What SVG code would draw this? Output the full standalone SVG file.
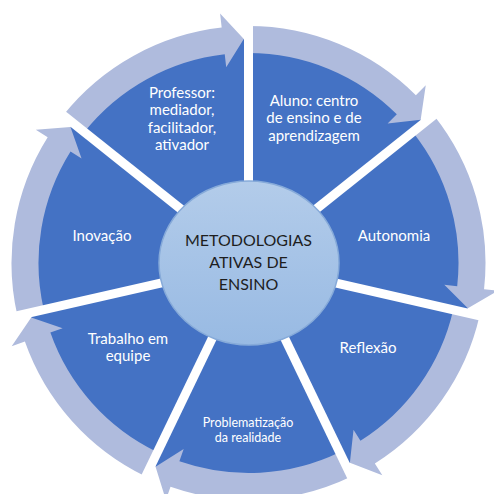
<svg xmlns="http://www.w3.org/2000/svg" width="494" height="494" viewBox="0 0 494 494">
  <defs>
    <style>
      .seg { fill: #4472C4; }
      .arw { fill: #AFBBDD; }
      .gap { stroke: #FFFFFF; stroke-width: 9; stroke-linecap: butt; fill: none; }
      .lbl { font-family: Lato, "Open Sans", "Liberation Sans", sans-serif; font-size: 15px; fill: #FFFFFF; text-anchor: middle; }
      .sm { font-size: 12.5px; }
      .hub-txt { font-family: Lato, "Open Sans", "Liberation Sans", sans-serif; font-size: 16px; fill: #1E1E1E; text-anchor: middle; }
    </style>
    <linearGradient id="hubFill" x1="0" y1="0" x2="0" y2="1">
      <stop offset="0" stop-color="#B3CCEA"/>
      <stop offset="1" stop-color="#98BAE3"/>
    </linearGradient>
  </defs>

  <rect width="494" height="494" fill="#FFFFFF"/>

  <!-- Seven pie segments around the hub at (248.5, 263), radius 224 -->
  <g id="node-aluno">
    <path class="seg" d="M248.5,263 L248.5,39 A224,224 0 0 1 423.63,123.34 Z"/>
    <text class="lbl"><tspan x="314" y="105.5">Aluno: centro</tspan><tspan x="314" y="123">de ensino e de</tspan><tspan x="314" y="140.5">aprendizagem</tspan></text>
  </g>
  <g id="node-autonomia">
    <path class="seg" d="M248.5,263 L423.63,123.34 A224,224 0 0 1 466.88,312.84 Z"/>
    <text class="lbl" x="394" y="241">Autonomia</text>
  </g>
  <g id="node-reflexao">
    <path class="seg" d="M248.5,263 L466.88,312.84 A224,224 0 0 1 345.69,464.82 Z"/>
    <text class="lbl" x="368" y="353">Reflexão</text>
  </g>
  <g id="node-problematizacao">
    <path class="seg" d="M248.5,263 L345.69,464.82 A224,224 0 0 1 151.31,464.82 Z"/>
    <text class="lbl sm"><tspan x="248" y="427">Problematização</tspan><tspan x="248" y="442">da realidade</tspan></text>
  </g>
  <g id="node-trabalho">
    <path class="seg" d="M248.5,263 L151.31,464.82 A224,224 0 0 1 30.12,312.84 Z"/>
    <text class="lbl"><tspan x="128" y="343.5">Trabalho em</tspan><tspan x="128" y="361">equipe</tspan></text>
  </g>
  <g id="node-inovacao">
    <path class="seg" d="M248.5,263 L30.12,312.84 A224,224 0 0 1 73.37,123.34 Z"/>
    <text class="lbl" x="102" y="241">Inovação</text>
  </g>
  <g id="node-professor">
    <path class="seg" d="M248.5,263 L73.37,123.34 A224,224 0 0 1 248.5,39 Z"/>
    <text class="lbl"><tspan x="182" y="97.5">Professor:</tspan><tspan x="182" y="115">mediador,</tspan><tspan x="182" y="132.5">facilitador,</tspan><tspan x="182" y="150">ativador</tspan></text>
  </g>

  <!-- Clockwise curved arrows along the outer rim, one per segment -->
  <g id="connectors">
    <path class="arw" d="M248.5,26 A237,237 0 0 1 415.88,95.21 L425.76,85.30 L420.67,119.70 L387.63,123.53 L396.81,114.32 A210,210 0 0 0 248.5,53 Z"/>
    <path class="arw" d="M433.79,115.23 A237,237 0 0 1 484.04,289.24 L497.96,290.79 L467.88,308.26 L444.29,284.81 L457.21,286.25 A210,210 0 0 0 412.68,132.07 Z"/>
    <path class="arw" d="M479.56,315.74 A237,237 0 0 1 374.84,463.52 L382.31,475.36 L349.89,462.74 L353.52,429.68 L360.45,440.67 A210,210 0 0 0 453.24,309.73 Z"/>
    <path class="arw" d="M351.33,476.53 A237,237 0 0 1 170.50,486.80 L165.90,500.02 L155.56,466.81 L183.67,449.03 L179.39,461.30 A210,210 0 0 0 339.61,452.20 Z"/>
    <path class="arw" d="M145.67,476.53 A237,237 0 0 1 24.89,341.56 L11.68,346.20 L31.21,317.41 L62.63,328.30 L50.37,332.61 A210,210 0 0 0 157.39,452.20 Z"/>
    <path class="arw" d="M17.44,315.74 A237,237 0 0 1 47.67,137.16 L35.81,129.73 L70.48,127.04 L81.56,158.40 L70.55,151.50 A210,210 0 0 0 43.76,309.73 Z"/>
    <path class="arw" d="M63.21,115.23 A237,237 0 0 1 221.67,27.52 L220.09,13.61 L243.81,39.05 L226.20,67.27 L224.73,54.35 A210,210 0 0 0 84.32,132.07 Z"/>
  </g>

  <!-- White separators between segments -->
  <g id="separators">
    <line class="gap" x1="248.5" y1="183" x2="248.5" y2="-2"/>
    <line class="gap" x1="311.05" y1="213.12" x2="455.68" y2="97.78"/>
    <line class="gap" x1="326.49" y1="280.80" x2="506.86" y2="321.97"/>
    <line class="gap" x1="283.21" y1="335.08" x2="363.48" y2="501.76"/>
    <line class="gap" x1="213.79" y1="335.08" x2="133.52" y2="501.76"/>
    <line class="gap" x1="170.51" y1="280.80" x2="-9.86" y2="321.97"/>
    <line class="gap" x1="185.95" y1="213.12" x2="41.32" y2="97.78"/>
  </g>

  <!-- Central hub -->
  <g id="node-hub">
    <ellipse cx="249" cy="263" rx="90" ry="82" fill="url(#hubFill)" stroke="#86AAD9" stroke-width="1.5"/>
    <text class="hub-txt"><tspan x="248.5" y="246">METODOLOGIAS</tspan><tspan x="248.5" y="268">ATIVAS DE</tspan><tspan x="248.5" y="290">ENSINO</tspan></text>
  </g>
</svg>
